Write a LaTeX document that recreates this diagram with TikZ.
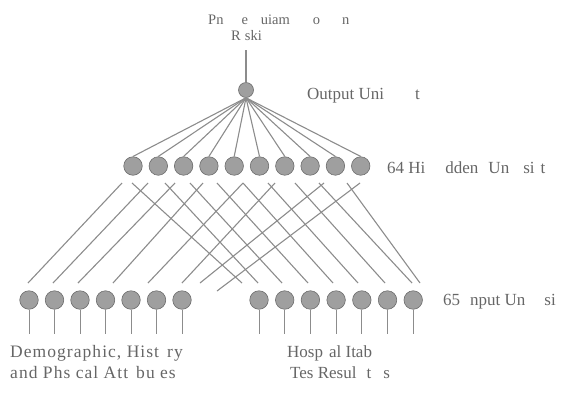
\documentclass[tikz,border=0pt]{standalone}
\usepackage{fontspec}
\setmainfont{Liberation Serif}
\begin{document}
\begin{tikzpicture}[x=1pt,y=-1pt,
  unit/.style={circle,draw=gray!85!black,fill=gray!75,line width=0.6pt,minimum size=18.5pt,inner sep=0pt},
  outunit/.style={unit,minimum size=15pt},
  wire/.style={draw=gray!90,line width=1.1pt},
  stub/.style={draw=gray!90,line width=0.75pt},
  lbl/.style={text=gray!80!black,font=\fontsize{17}{20}\selectfont,anchor=base west,inner sep=0pt},
  widelbl/.style={lbl,font=\fontsize{17.5}{20}\selectfont\addfontfeature{LetterSpace=6}},
  ttl/.style={text=gray!80!black,font=\fontsize{14.5}{16}\selectfont,anchor=base west,inner sep=0pt}]
\useasboundingbox (0,0) rectangle (561,400);
% output unit
\node[outunit] (o) at (246,90) {};
\coordinate (otop) at (246,50);
\draw[wire] (otop) -- (o.north);
% hidden units
\foreach \i in {0,...,9} {
  \node[unit] (h\i) at ({133+25.3*\i},166) {};
  \draw[wire] (o.south) -- (h\i.north);
}
% input units
\foreach \i in {0,...,6} {
  \node[unit] (l\i) at ({29+25.5*\i},300) {};
  \draw[stub] (l\i.south) -- ++(0,24);
  \node[unit] (r\i) at ({259+25.7*\i},300) {};
  \draw[stub] (r\i.south) -- ++(0,24);
}
% connection fragments between hidden and input layers
\foreach \a/\b/\c/\d in {28/283/122/183, 53/283/148/183, 78/283/175/183, 113/283/203/183,
  148/283/243/183, 182/283/275/183, 200/283/324/183, 217/291/360/183,
  132/183/242/283, 165/183/258/283, 190/183/282/283, 217/183/308/283, 243/183/333/283,
  268/183/358/283, 295/183/385/283, 319/183/412/283, 347/183/420/283}
  \draw[wire] (\a,\b) -- (\c,\d);
% labels
\node[ttl] (t1) at (208,24) {Pn\hspace{18pt}e\hspace{13pt}uiam\hspace{23pt}o\hspace{22pt}n};
\node[ttl] (t2) at (231,40) {R\hspace{4pt}ski};
\node[lbl] (lo) at (307,99) {Output Uni\hspace{31pt}t};
\node[lbl] (lh) at (387,173) {64 Hi\hspace{20pt}dden\hspace{10pt}Un\hspace{14pt}si\hspace{6pt}t};
\node[lbl] (li) at (443,305) {65\hspace{10pt}nput Un\hspace{19pt}si};
\node[widelbl] (b1) at (10,357) {Demographic, Hist\hspace{8pt}ry};
\node[widelbl] (b2) at (10,378) {and Phs cal Att\hspace{8pt}bu es};
\node[lbl] (b3) at (287,357) {Hosp\hspace{6pt}al Itab};
\node[lbl] (b4) at (290,378) {Tes Resul\hspace{10pt}t\hspace{12pt}s};
\end{tikzpicture}
\end{document}
